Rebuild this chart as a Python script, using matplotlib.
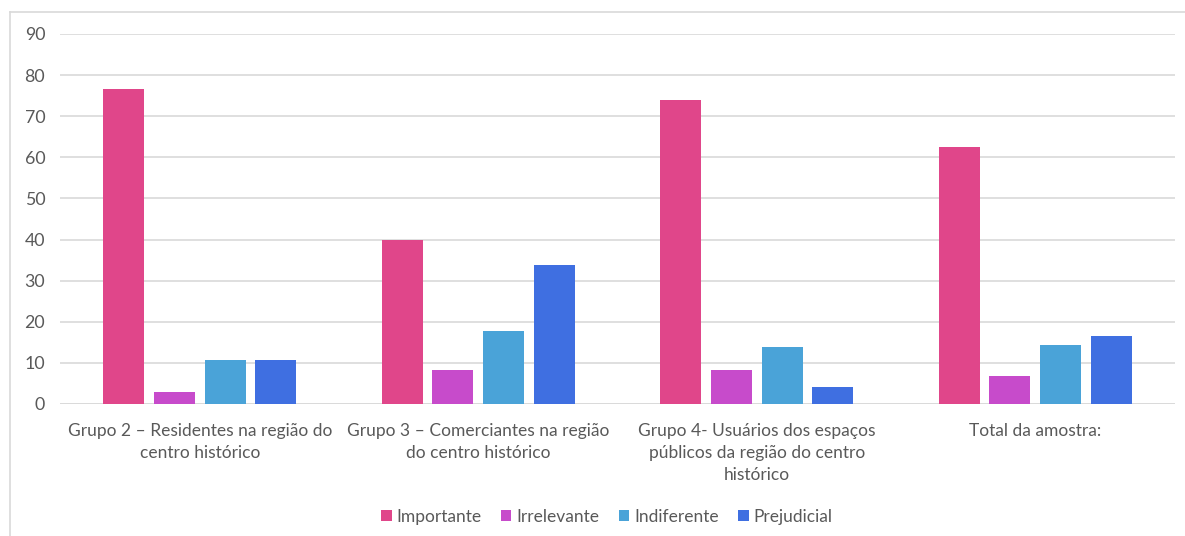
import matplotlib
matplotlib.use("Agg")
import matplotlib.pyplot as plt
from matplotlib.lines import Line2D
import numpy as np

categories = [
    "Grupo 2 – Residentes na região do\ncentro histórico",
    "Grupo 3 – Comerciantes na região\ndo centro histórico",
    "Grupo 4- Usuários dos espaços\npúblicos da região do centro\nhistórico",
    "Total da amostra:",
]
series_names = ["Importante", "Irrelevante", "Indiferente", "Prejudicial"]
importante = [76.5, 40.0, 74.0, 62.5]
irrelevante = [2.8, 8.3, 8.3, 6.8]
indiferente = [10.7, 17.8, 13.8, 14.4]
prejudicial = [10.7, 33.8, 4.2, 16.6]
colors = ["#E0468A", "#C74BCB", "#4AA3D8", "#3F6FE1"]
yticks = [0, 10, 20, 30, 40, 50, 60, 70, 80, 90]

plt.rcParams["font.family"] = ["Lato", "DejaVu Sans"]
text_color = "#595959"

fig = plt.figure(figsize=(11.85, 5.36), dpi=100)
ax = fig.add_axes([60.5 / 1185, 1 - 404 / 536, 1114 / 1185, 370 / 536])

x = np.arange(len(categories))
width = 0.147
step = 0.182
all_series = [importante, irrelevante, indiferente, prejudicial]
for i, (vals, name, col) in enumerate(zip(all_series, series_names, colors)):
    ax.bar(x + (i - 1.5) * step, vals, width, color=col, label=name, zorder=3)

ax.set_xlim(-0.5, len(categories) - 0.5)
ax.set_ylim(0, 90)
ax.set_yticks(yticks)
ax.set_yticklabels([str(t) for t in yticks], fontsize=12.8, color=text_color)
ax.set_xticks(x)
ax.set_xticklabels(categories, fontsize=12.5, color=text_color, linespacing=1.45, va="top")
ax.tick_params(axis="both", length=0)
ax.tick_params(axis="x", pad=14)
ax.tick_params(axis="y", pad=11)
ax.grid(axis="y", color="#D9D9D9", linewidth=1.2, zorder=0)
for s in ax.spines.values():
    s.set_visible(False)
ax.axhline(0, color="#D9D9D9", linewidth=1.2, zorder=1)

leg = fig.legend(
    loc="center", bbox_to_anchor=(607 / 1185, 1 - 517 / 536), ncol=4, frameon=False,
    fontsize=12.5, handlelength=0.6, handleheight=0.6, handletextpad=0.3, columnspacing=1.1,
)
for t in leg.get_texts():
    t.set_color(text_color)

# chart area border
fig.add_artist(Line2D([10 / 1185, 10 / 1185], [0, 1 - 12 / 536], transform=fig.transFigure,
                      color="#D9D9D9", linewidth=1.2))
fig.add_artist(Line2D([10 / 1185, 1], [1 - 12 / 536, 1 - 12 / 536], transform=fig.transFigure,
                      color="#D9D9D9", linewidth=1.2))

fig.savefig("out.png", dpi=100, facecolor="white")
